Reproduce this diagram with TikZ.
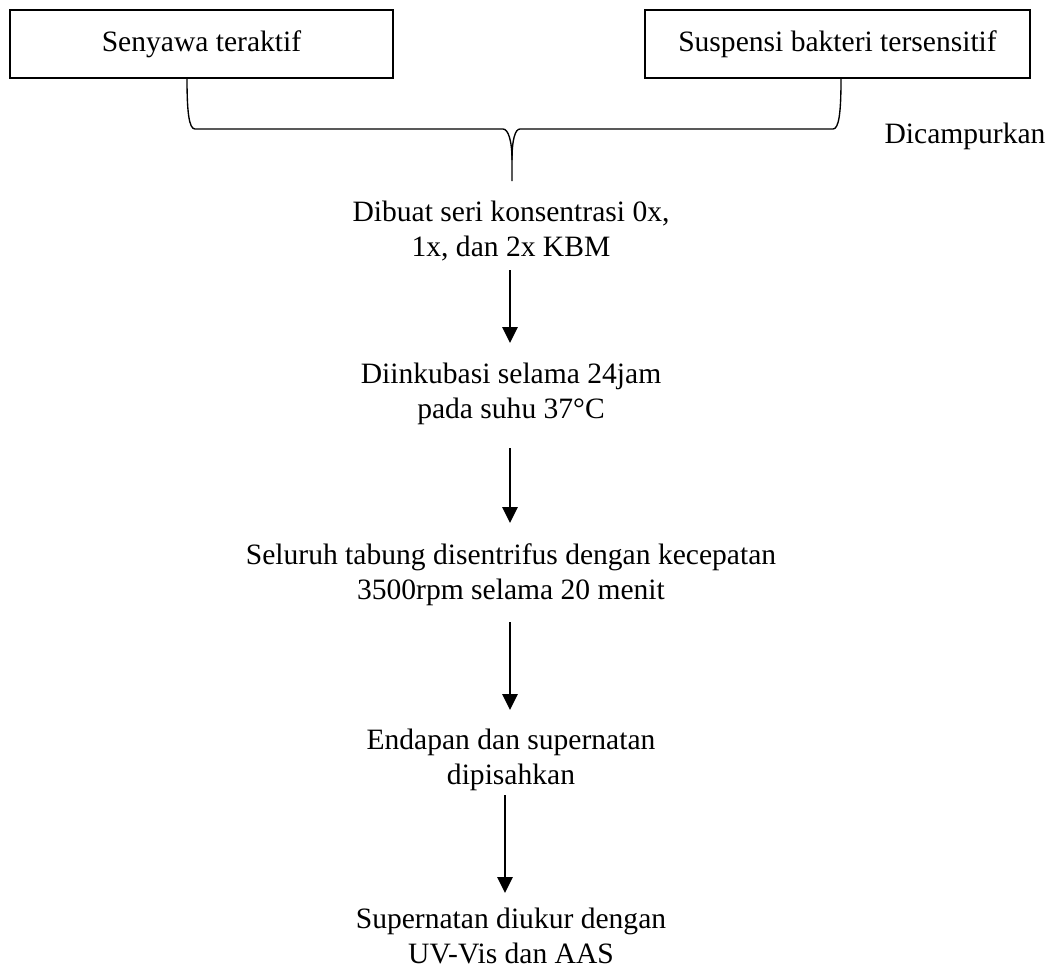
\documentclass[tikz,border=0pt]{standalone}
\usepackage{fontspec}
\setmainfont{Liberation Serif}
\usetikzlibrary{arrows.meta}
\begin{document}
\begin{tikzpicture}[x=0.406pt,y=-0.406pt,
  stepbox/.style={draw,line width=0.8pt,inner sep=0pt,minimum height=27.6pt,font=\fontsize{12}{14.2}\selectfont},
  steptext/.style={align=center,inner sep=0pt,font=\fontsize{12}{14.2}\selectfont},
  flow/.style={line width=0.8pt,-{Triangle[width=6.2pt,length=6.5pt]}},
  bracel/.style={line width=0.55pt}]
\useasboundingbox (0,0) rectangle (1048,973);
\node[stepbox,minimum width=155.5pt] (b1) at (201.5,44) {\raisebox{1pt}{Senyawa teraktif}};
\node[stepbox,minimum width=156.3pt] (b2) at (837.5,44) {\raisebox{1pt}{Suspensi bakteri tersensitif}};
\node[steptext] (mix) at (965,136.5) {Dicampurkan};
\node[steptext] (s1) at (511,231) {Dibuat seri konsentrasi 0x,\\1x, dan 2x KBM};
\node[steptext] (s2) at (511,394) {Diinkubasi selama 24jam\\pada suhu 37°C};
\node[steptext] (s3) at (511,575) {Seluruh tabung disentrifus dengan kecepatan\\3500rpm selama 20 menit};
\node[steptext] (s4) at (511,760) {Endapan dan supernatan\\dipisahkan};
\node[steptext] (s5) at (511,936) {Supernatan diukur dengan\\UV-Vis dan AAS};
\coordinate (tip) at (512,181);
\draw[bracel] (b1.south -| 187,0) .. controls (187,112) and (189,129) .. (195,129)
  -- (503,129) .. controls (508,129) and (512,140) .. (512,160) -- (tip);
\draw[bracel] (b2.south -| 841,0) .. controls (841,112) and (839,129) .. (833,129)
  -- (520,129) .. controls (515,129) and (512,140) .. (512,160);
\coordinate (a1s) at (510,270); \coordinate (a1e) at (510,343);
\coordinate (a2s) at (510,448); \coordinate (a2e) at (510,523);
\coordinate (a3s) at (510,622); \coordinate (a3e) at (510,710);
\coordinate (a4s) at (505,795); \coordinate (a4e) at (505,893);
\draw[flow] (a1s) -- (a1e);
\draw[flow] (a2s) -- (a2e);
\draw[flow] (a3s) -- (a3e);
\draw[flow] (a4s) -- (a4e);
\end{tikzpicture}
\end{document}
